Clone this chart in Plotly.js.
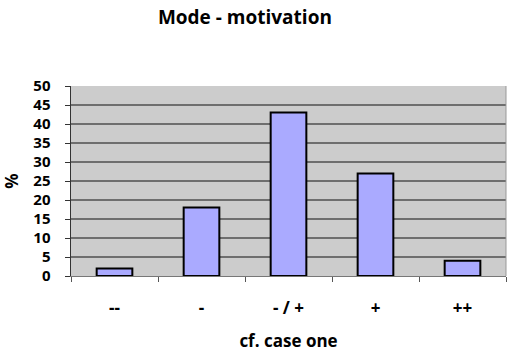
<!DOCTYPE html>
<html>
<head>
<meta charset="utf-8">
<script src="https://cdn.plot.ly/plotly-3.0.1.min.js"></script>
<style>html,body{margin:0;padding:0;background:#fff;}#chart{width:520px;height:359px;}</style>
</head>
<body>
<div id="chart"></div>
<script>
var categories = ["--", "-", "- / +", "+", "++"];
var percentValues = [2, 18, 43, 27, 4];
var yTickValues = [0, 5, 10, 15, 20, 25, 30, 35, 40, 45, 50];

var fontFam = "Open Sans, Lato, sans-serif";
var trace = {
  type: "bar",
  x: categories,
  y: percentValues,
  marker: {color: "#aaaaff", line: {color: "#000000", width: 2}},
  hoverinfo: "none"
};
var layout = {
  width: 520,
  height: 359,
  margin: {l: 71, r: 14, t: 86, b: 83},
  paper_bgcolor: "#ffffff",
  plot_bgcolor: "#cccccc",
  bargap: 0.59,
  showlegend: false,
  title: {
    text: "<b>Mode - motivation</b>",
    font: {family: fontFam, size: 19, color: "#000"},
    x: 0.471, xanchor: "center", y: 0.952, yanchor: "middle"
  },
  xaxis: {
    type: "category",
    tickson: "boundaries",
    ticks: "outside",
    ticklen: 5,
    tickcolor: "#555",
    tickwidth: 1,
    showgrid: false,
    showline: true,
    linecolor: "#777",
    linewidth: 1,
    tickfont: {family: fontFam, size: 17, color: "#000", weight: 700},
    ticklabelstandoff: 17,
    title: {text: "<b>cf. case one</b>", font: {family: fontFam, size: 17, color: "#000"}, standoff: 16},
    fixedrange: true
  },
  yaxis: {
    range: [0, 50],
    tickvals: yTickValues,
    ticktext: yTickValues.map(String),
    ticks: "outside",
    ticklen: 5,
    tickcolor: "#333",
    showline: true,
    linecolor: "#333",
    linewidth: 1.5,
    showgrid: true,
    gridcolor: "#6e6e6e",
    gridwidth: 1.5,
    zeroline: false,
    tickfont: {family: fontFam, size: 15, color: "#000", weight: 700},
    ticklabelstandoff: 11,
    title: {text: "<b>%</b>", font: {family: fontFam, size: 17, color: "#000"}, standoff: 16},
    fixedrange: true
  },
  shapes: [
    {type: "line", xref: "paper", yref: "paper", x0: 1, x1: 1, y0: 0, y1: 1, line: {color: "#999", width: 1}}
  ]
};
Plotly.newPlot("chart", [trace], layout, {displayModeBar: false, staticPlot: true});
</script>
</body>
</html>
